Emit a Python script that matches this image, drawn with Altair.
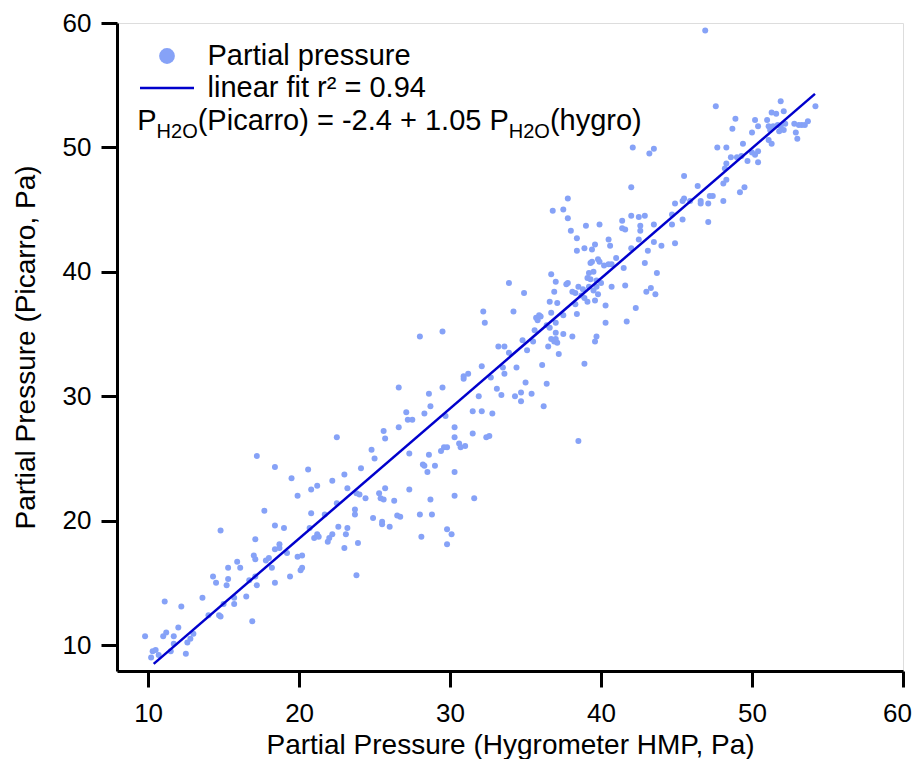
import altair as alt
import pandas as pd

# Partial pressure: hygrometer (x) vs Picarro (y), Pa
hygro = [
    9.8, 10.2, 10.3, 10.5, 10.7, 11.0, 11.2, 11.1, 11.5, 11.7, 11.7, 12.0, 12.2, 12.5, 12.6, 12.8, 13.0,
    13.6, 14.0, 14.3, 14.5, 14.7, 14.8, 14.8, 15.0, 15.2, 15.3, 15.3, 15.7, 15.7, 15.9, 16.1, 16.5, 16.7,
    16.9, 17.2, 18.4,
    25.6, 25.7, 26.6, 26.6, 22.5, 24.8, 25.0, 17.2, 18.4, 20.6, 19.5, 22.2, 23.0, 24.1, 21.2, 20.8, 23.2,
    19.9, 23.8, 24.0, 22.5, 24.4, 25.7, 25.3, 25.4, 25.6, 26.3, 27.3, 28.6, 28.2, 28.3, 29.0, 28.5, 29.4,
    30.3, 30.3, 31.6, 28.7, 27.3, 28.8, 28.0, 26.5, 26.7, 26.0, 25.5, 25.5, 24.9, 23.7, 23.7, 23.9, 23.0,
    23.2, 23.1, 22.6, 22.2, 22.0, 21.9, 21.7, 20.8, 20.7, 21.2, 21.0, 21.3, 19.0, 18.4, 17.7, 17.1, 17.0,
    17.1, 17.8, 18.0, 18.4, 18.7, 18.7, 19.2, 18.2, 19.9, 20.2, 20.2, 20.1, 19.4, 23.8, 17.1,
    29.8, 30.1, 29.8, 28.1,
    33.9, 34.9, 36.6, 32.2, 34.2, 32.3, 29.5, 28.0, 35.7, 35.9, 36.0, 35.8, 35.6, 36.4, 36.6, 34.8, 35.5,
    35.1, 33.2, 33.6, 33.9, 36.5, 37.2, 38.9, 32.1, 33.5, 34.4, 30.9, 30.9, 31.2, 32.7, 33.6, 36.1, 29.5,
    28.6, 33.1, 31.9, 33.4, 34.3, 34.7, 34.7, 35.0, 35.4, 36.4, 36.2, 27.1, 28.7, 28.3, 27.2, 27.5, 29.7,
    31.5, 32.1, 32.8, 30.3, 30.3, 30.6, 31.0, 30.7, 31.5, 32.4, 32.6, 29.6, 29.8, 38.5,
    42.1, 43.2, 42.0, 37.8, 36.8, 37.5, 37.8, 38.0, 38.4, 38.4, 38.9, 39.0, 39.9, 39.4, 39.6, 40.5, 40.6,
    41.4, 42.0, 41.4, 41.6, 42.5, 42.9, 42.6, 42.6, 42.5, 42.0, 43.1, 43.5, 43.5, 44.0, 44.7, 45.4, 44.9,
    47.1, 41.0, 41.5, 39.4, 39.8, 39.9, 40.2, 40.5, 40.7, 39.3, 42.9, 43.7, 39.2, 39.5, 39.1, 39.3, 39.7,
    40.0, 36.7, 37.0, 37.8, 37.7, 36.9, 38.1, 38.3, 38.5, 38.8, 38.7, 38.9, 39.2, 39.5, 39.8, 39.7, 37.1,
    39.1, 39.6, 40.7, 41.6, 40.3, 42.3, 38.3, 37.5, 38.4, 36.7, 40.3, 41.7, 37.0, 37.0, 37.5, 38.1, 36.7,
    36.9, 37.1, 37.0, 39.7, 39.6, 43.3, 43.0, 43.6,
    46.9, 47.6, 51.9, 54.2, 51.3, 51.6, 52.1, 48.9, 50.2, 51.0, 50.4, 48.7, 51.1, 51.2, 51.4, 51.7, 51.9,
    52.2, 52.1, 51.8, 52.8, 53.1, 53.3, 53.5, 53.7, 52.9, 50.0, 53.0, 51.1, 51.3, 49.4, 47.7, 48.3, 43.5,
    48.6, 49.0, 49.3, 49.7, 50.4, 50.0, 50.2, 50.4, 48.3, 48.2, 45.5, 46.4, 48.3, 48.1, 49.5, 49.2, 44.9,
    45.4, 45.5, 45.9, 46.6, 46.6, 47.2, 47.4, 47.1, 48.1, 44.7,
]
picarro = [
    10.7, 9.0, 9.5, 9.6, 9.2, 10.7, 11.0, 13.5, 9.5, 10.7, 10.1, 11.4, 13.1, 9.3, 10.2, 10.5, 10.9,
    13.8, 12.4, 15.5, 15.0, 12.4, 12.3, 19.2, 13.3, 14.8, 15.3, 16.2, 13.3, 13.8, 16.7, 16.2, 13.9, 15.2,
    11.9, 14.8, 15.0,
    27.2, 26.6, 27.5, 30.7, 26.7, 25.7, 25.0, 25.2, 24.3, 24.1, 23.4, 23.2, 23.7, 24.2, 22.8, 22.5, 22.6,
    22.0, 22.2, 22.1, 21.4, 21.8, 22.6, 22.2, 21.8, 21.7, 21.6, 25.4, 25.3, 24.5, 24.4, 24.4, 23.9, 25.6,
    23.9, 22.0, 21.8, 21.7, 22.5, 20.5, 20.5, 20.4, 20.3, 19.5, 19.9, 19.7, 20.2, 20.9, 20.5, 18.2, 17.8,
    19.4, 18.9, 19.5, 18.9, 18.6, 18.3, 20.5, 20.6, 19.4, 18.9, 18.6, 18.7, 19.4, 19.6, 20.8, 18.5, 17.2,
    16.9, 16.8, 17.0, 17.7, 18.1, 17.8, 17.4, 16.2, 17.1, 17.2, 16.2, 16.0, 15.5, 15.6, 15.5,
    19.3, 18.9, 18.1, 18.7,
    39.1, 38.3, 37.6, 36.8, 36.8, 35.9, 35.2, 34.8, 36.3, 36.5, 36.4, 36.1, 35.3, 35.7, 35.5, 34.5, 34.4,
    33.7, 34.0, 34.0, 33.5, 34.0, 33.4, 32.6, 32.4, 32.3, 32.3, 31.6, 31.4, 31.8, 31.5, 31.8, 32.5, 30.7,
    30.2, 30.6, 30.0, 30.1, 30.0, 30.3, 29.6, 31.1, 30.2, 31.0, 29.2, 28.7, 29.2, 28.6, 28.1, 28.1, 28.4,
    28.8, 28.8, 28.6, 27.5, 26.7, 26.2, 26.0, 25.9, 27.0, 26.7, 26.8, 25.9, 25.9, 26.4,
    50.0, 49.5, 46.8, 45.9, 44.9, 45.0, 44.3, 43.3, 42.7, 41.7, 41.9, 43.7, 43.8, 41.8, 42.2, 42.6, 42.1,
    44.1, 44.5, 43.5, 43.4, 44.4, 44.5, 43.7, 43.3, 42.6, 41.9, 41.7, 43.8, 42.4, 42.1, 43.8, 44.2, 42.3,
    44.0, 41.1, 40.3, 40.8, 41.0, 40.8, 40.5, 40.6, 40.6, 40.7, 40.7, 39.9, 39.9, 40.0, 39.5, 39.4, 39.3,
    39.1, 39.8, 39.2, 39.1, 39.0, 38.4, 38.4, 38.3, 38.8, 38.6, 38.1, 37.9, 38.8, 38.5, 38.2, 38.8, 37.5,
    37.6, 37.7, 38.8, 38.9, 37.3, 37.1, 37.4, 36.5, 36.6, 36.7, 35.9, 36.0, 35.9, 35.1, 35.0, 34.8, 34.6,
    34.4, 34.3, 34.6, 34.8, 34.4, 38.7, 38.4, 38.2,
    59.4, 53.3, 53.7, 53.3, 52.8, 52.7, 52.9, 52.3, 52.2, 52.2, 51.7, 51.5, 51.7, 51.4, 51.7, 51.8, 51.7,
    51.9, 51.4, 51.3, 51.9, 51.8, 51.8, 51.8, 52.1, 51.2, 51.2, 50.7, 50.6, 50.3, 50.3, 50.0, 50.0, 49.9,
    49.2, 49.2, 49.3, 48.9, 48.8, 49.6, 49.4, 49.7, 48.7, 48.3, 47.7, 46.9, 47.4, 47.1, 46.8, 46.4, 45.5,
    45.7, 45.9, 45.7, 45.7, 45.5, 46.1, 46.1, 45.5, 45.7, 44.6,
]

# linear fit line end points
fit_x = [10.37, 54.17]
fit_y = [8.48, 54.3]

legend_labels = ["Partial pressure", "linear fit r\u00b2 = 0.94"]
equation_parts = ["P", "H2O", "(Picarro) = -2.4 + 1.05 P", "H2O", "(hygro)"]

x_axis_title = "Partial Pressure (Hygrometer HMP, Pa)"
y_axis_title = "Partial Pressure (Picarro, Pa)"
x_ticks = [10, 20, 30, 40, 50, 60]
y_ticks = [10, 20, 30, 40, 50, 60]

FONT = "Liberation Sans"
PT_COLOR = "#86A2F7"
LINE_COLOR = "#0000CC"

W, H = 786, 648
pts = pd.DataFrame({"x": hygro, "y": picarro})
fit = pd.DataFrame({"x": fit_x, "y": fit_y})

xscale = alt.Scale(domain=[7.94, 60], nice=False, zero=False)
yscale = alt.Scale(domain=[7.91, 60], nice=False, zero=False)

xaxis = alt.Axis(
    values=x_ticks, grid=False, domainColor="black", domainWidth=3, tickColor="black",
    tickWidth=3, tickSize=16, labelFont=FONT, labelFontSize=26, labelColor="black",
    labelPadding=13, title=x_axis_title, titleFont=FONT, titleFontSize=28,
    titleFontWeight="normal", titleColor="black", titleX=W / 2, titleY=82,
    titleBaseline="alphabetic", labelFlush=False, labelOverlap=False,
    labelOffset={"condition": {"test": "datum.value == 60", "value": -6}, "value": 0},
)
yaxis = alt.Axis(
    values=y_ticks, grid=False, domainColor="black", domainWidth=3, tickColor="black",
    tickWidth=3, tickSize=16, labelFont=FONT, labelFontSize=26, labelColor="black",
    labelPadding=10, title=y_axis_title, titleFont=FONT, titleFontSize=28,
    titleFontWeight="normal", titleColor="black", titleX=-83, titleY=H / 2,
    titleBaseline="alphabetic", titleAngle=270, labelFlush=False, labelOverlap=False,
)

scatter = alt.Chart(pts).mark_circle(size=36, opacity=1, color=PT_COLOR).encode(
    x=alt.X("x:Q", scale=xscale, axis=xaxis),
    y=alt.Y("y:Q", scale=yscale, axis=yaxis),
)
line = alt.Chart(fit).mark_line(color=LINE_COLOR, strokeWidth=2.5).encode(
    x=alt.X("x:Q", scale=xscale), y=alt.Y("y:Q", scale=yscale)
)

one = pd.DataFrame({"k": [0]})
leg_dot = alt.Chart(one).mark_circle(size=250, opacity=1, color=PT_COLOR).encode(
    x=alt.value(50), y=alt.value(33)
)
leg_line = alt.Chart(one).mark_rule(color=LINE_COLOR, strokeWidth=2.5).encode(
    x=alt.value(23), x2=alt.value(77), y=alt.value(65)
)

def txt(s, x, y, size):
    return alt.Chart(pd.DataFrame({"t": [s]})).mark_text(
        font=FONT, fontSize=size, color="black", align="left", baseline="alphabetic"
    ).encode(text="t:N", x=alt.value(x), y=alt.value(y))

leg_t1 = txt(legend_labels[0], 90.5, 42, 29)
leg_t2 = txt(legend_labels[1], 90.5, 74, 29)
eq = [
    txt(equation_parts[0], 20.3, 107, 29),
    txt(equation_parts[1], 39.6, 115, 20),
    txt(equation_parts[2], 80.7, 107, 29),
    txt(equation_parts[3], 391.8, 115, 20),
    txt(equation_parts[4], 432.9, 107, 29),
]

# whole svg kept within 904 x 751 so the 920x767 page does not overflow
chart = alt.layer(scatter, line, leg_dot, leg_line, leg_t1, leg_t2, *eq).properties(
    width=W, height=H,
    autosize=alt.AutoSizeParams(type="none"),
    padding={"left": 109, "top": 15, "right": 9, "bottom": 88},
).configure_view(stroke=None).configure(background="white")

chart.save("out.html", embed_options={"renderer": "svg", "actions": False})
